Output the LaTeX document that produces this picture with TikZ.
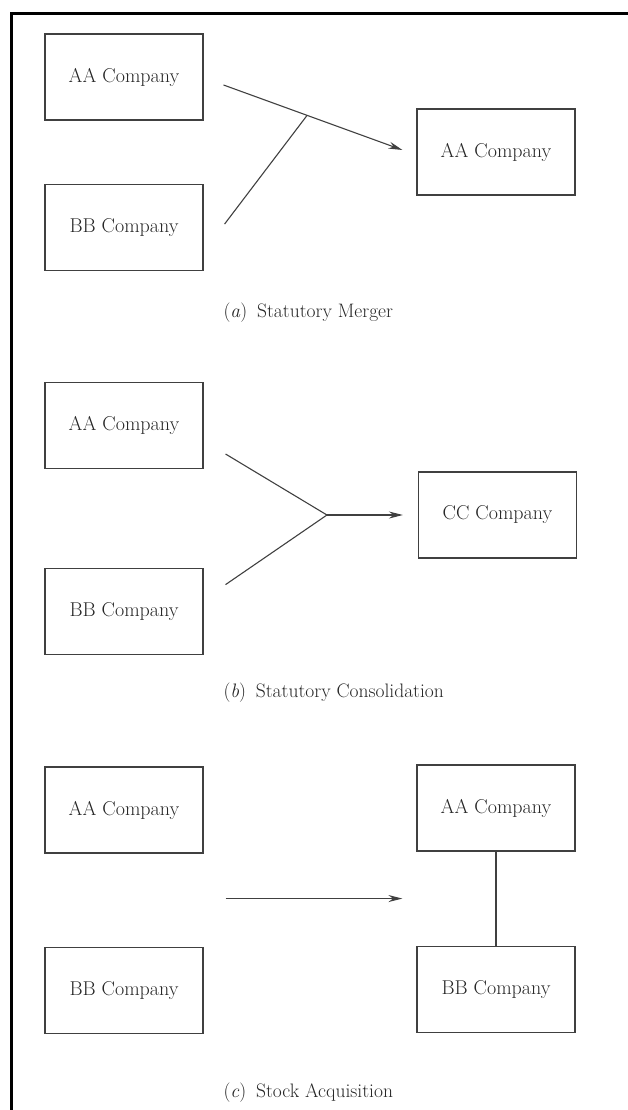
\documentclass[tikz,border=0pt]{standalone}
\usepackage{fontspec}
\usetikzlibrary{positioning,calc,arrows.meta}

\begin{document}
\begin{tikzpicture}[x=1pt, y=-1pt,
    every node/.style = {text=black!85},
    firm/.style = {draw=black!75, line width=1.1pt, minimum width=158pt,
      minimum height=86pt, inner sep=0pt, font=\fontsize{20}{24}\selectfont},
    caption/.style = {anchor=base west, font=\fontsize{19.5}{23}\selectfont},
    link/.style = {draw=black!75, line width=1.1pt},
    every edge/.style = {link, -{Stealth[length=14pt,width=7pt]}}]
  \useasboundingbox (0,0) rectangle (628,1110);
  \draw[line width=3pt] (11,1110) -- (11,14) -- (628,14);

  % (a) statutory merger
  \node (aa1) [firm] at (124,77) {AA Company};
  \node (bb1) [firm, below = 63pt of aa1] {BB Company};
  \node (am)  [firm] at (496,152) {AA Company};
  \coordinate (a1s) at ([xshift=20pt,yshift=-8pt]aa1.east);
  \coordinate (a1e) at ([xshift=-14pt,yshift=2pt]am.west);
  \coordinate (a2s) at ([xshift=21pt,yshift=3pt]bb1.east);
  \coordinate (ja) at ($(a1s)!0.467!(a1e)$);
  \draw (a1s) edge (a1e);
  \draw[link] (a2s) -- (ja);
  \node (capa) [caption] at (220,317) {(\textit{a})\enspace Statutory Merger};

  % (b) statutory consolidation
  \node (aa2) [firm] at (124,425.5) {AA Company};
  \node (bb2) [firm, below = 99pt of aa2] {BB Company};
  \node (cc)  [firm] at (497.5,515) {CC Company};
  \coordinate (b1s) at ([xshift=22pt,yshift=-28.5pt]aa2.east);
  \coordinate (b2s) at ([xshift=22pt,yshift=27pt]bb2.east);
  \coordinate (jb) at ([xshift=-91pt]cc.west);
  \coordinate (b1e) at ([xshift=-15pt]cc.west);
  \draw[link] (b1s) -- (jb) -- (b2s);
  \draw (jb) edge (b1e);
  \node (capb) [caption] at (220,697) {(\textit{b})\enspace Statutory Consolidation};

  % (c) stock acquisition
  \node (aa3) [firm] at (124,810) {AA Company};
  \node (bb3) [firm, below = 93pt of aa3] {BB Company};
  \node (aa4) [firm] at (496,808) {AA Company};
  \node (bb4) [firm, below = 94pt of aa4] {BB Company};
  \coordinate (c1e) at ($(aa4.west)!0.5!(bb4.west) + (-14,0)$);
  \coordinate (c1s) at ([xshift=22pt]aa3.east |- c1e);
  \draw (c1s) edge (c1e);
  \draw[link] (aa4) -- (bb4);
  \node (capc) [caption] at (220,1097) {(\textit{c})\enspace Stock Acquisition};
\end{tikzpicture}
\end{document}
